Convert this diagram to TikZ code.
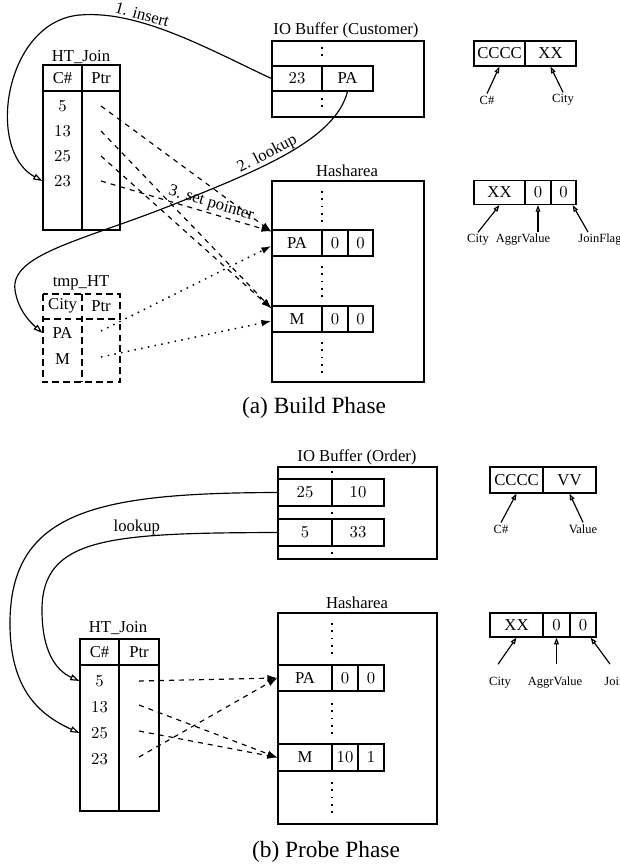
\documentclass[tikz,border=0pt]{standalone}
\usepackage{fontspec}
\setmainfont{Liberation Serif}
\usetikzlibrary{arrows.meta,calc}

\begin{document}
\begin{tikzpicture}[x=0.6pt, y=-0.6pt, line width=0.7pt,
  font=\fontsize{10}{12}\selectfont,
  cell/.style={draw, inner sep=0pt, minimum height=15pt},
  entry/.style={inner sep=0pt, minimum width=23.4pt, minimum height=15pt},
  small/.style={font=\fontsize{7.5}{9}\selectfont, inner sep=1pt},
  caption/.style={font=\fontsize{14}{17}\selectfont},
  ptr/.style={dashed, -{Latex[length=6pt,width=4pt]}},
  tmpptr/.style={line width=0.9pt, dash pattern=on 0.9pt off 3.2pt, -{Latex[length=6pt,width=4pt]}},
  flow/.style={-{Triangle[open,length=5.5pt,width=3.6pt]}},
  legend/.style={-{Triangle[open,length=4pt,width=2.8pt]}},
  vdots/.style={line width=1pt, dash pattern=on 1pt off 3.4pt},
  tmpline/.style={dash pattern=on 4pt off 2.5pt}]

  \useasboundingbox (0,0) rectangle (619,866);

  % (a) Build phase: IO buffer
  \node (iocust) at (346,30) {IO Buffer (Customer)};
  \draw (272,41) rectangle (424,117);
  \node[cell, minimum width=30pt] (c23) at (297,78.5) {$23$};
  \node[cell, minimum width=30.6pt] (cpa) at (347.5,78.5) {PA};
  \draw[vdots] (322,47) -- (322,58);
  \draw[vdots] (322,98) -- (322,109);

  % HT_Join
  \node (htj) at (81,57) {HT\_Join};
  \draw (43,65) rectangle (120,230);
  \draw (82,65) -- (82,230);
  \draw (43,91) -- (120,91);
  \node (jc) at (62.5,78) {C\#};
  \node (jp) at (101,78) {Ptr};
  \node[entry] (j5) at (62.5,106) {$5$};
  \node[entry] (j13) at (62.5,131) {$13$};
  \node[entry] (j25) at (62.5,156) {$25$};
  \node[entry] (j23) at (62.5,181) {$23$};
  \coordinate (q5) at (101,106);
  \coordinate (q13) at (101,131);
  \coordinate (q25) at (101,156);
  \coordinate (q23) at (101,181);

  % tmp_HT
  \node (tmpht) at (81,283) {tmp\_HT};
  \draw[tmpline] (43,294) rectangle (120,382);
  \draw[tmpline] (82,294) -- (82,382);
  \draw[tmpline] (43,319) -- (120,319);
  \node (tc) at (62.5,306) {City};
  \node (tp) at (101,306) {Ptr};
  \node[entry] (tpa) at (62.5,333) {PA};
  \node[entry] (tm) at (62.5,359) {M};
  \coordinate (qpa) at (101,331);
  \coordinate (qm) at (101,357);

  % Hasharea
  \node (hash) at (347,171) {Hasharea};
  \draw (272,181) rectangle (424,382);
  \node[cell, minimum width=30pt, minimum height=15.6pt] (hpa) at (297,243) {PA};
  \node[cell, minimum width=15.6pt, minimum height=15.6pt] (hpa1) at (335,243) {$0$};
  \node[cell, minimum width=15pt, minimum height=15.6pt] (hpa2) at (360.5,243) {$0$};
  \node[cell, minimum width=30pt, minimum height=15.6pt] (hm) at (297,319) {M};
  \node[cell, minimum width=15.6pt, minimum height=15.6pt] (hm1) at (335,319) {$0$};
  \node[cell, minimum width=15pt, minimum height=15.6pt] (hm2) at (360.5,319) {$0$};
  \draw[vdots] (322,191) -- (322,222);
  \draw[vdots] (322,266) -- (322,297);
  \draw[vdots] (322,342) -- (322,373);

  % set pointers
  \draw[ptr] (q5) -- ($(hpa.north west)+(0,2)$);
  \draw[ptr] (q13) -- ($(hm.north west)+(0,3)$);
  \draw[ptr] (q25) -- ($(hm.north west)+(0,3)$);
  \draw[ptr] (q23) -- node[sloped, above, inner sep=1pt, pos=0.63] (lset) {3. set pointer} ($(hpa.north west)+(0,2)$);
  \draw[tmpptr] (qpa) -- ($(hpa.west)+(0,3)$);
  \draw[tmpptr] (qm) -- ($(hm.west)+(0,2)$);

  % insert and lookup
  \draw[flow] (c23.west) .. controls (210,50) and (140,10) .. (80,15)
    node[pos=0.68, sloped, above, inner sep=1pt] (lins) {1. insert}
    .. controls (5,21) and (-15,150) .. (j23.west);
  \draw[flow] (cpa.south) .. controls (335,140) and (260,170) .. (167,207)
    node[pos=0.58, sloped, above, inner sep=0.5pt] (llook) {2. lookup}
    .. controls (80,241) and (10,255) .. (15,290)
    .. controls (18,310) and (30,322) .. (tpa.west);

  % record layouts
  \node[cell, minimum width=30.6pt] (lcc) at (499.5,53.5) {CCCC};
  \node[cell, minimum width=30.6pt] (lxx) at (550.5,53.5) {XX};
  \node[small] (lc) at (487,100) {C\#};
  \node[small] (lcity) at (563,100) {City};
  \draw[legend] (lc.north) -- (lcc.south);
  \draw[legend] (lcity.north) -- (lxx.south);

  \node[cell, minimum width=30.6pt, minimum height=14.4pt] (lxx2) at (499.5,192.5) {XX};
  \node[cell, minimum width=15.6pt, minimum height=14.4pt] (l0a) at (538,192.5) {$0$};
  \node[cell, minimum width=15pt, minimum height=14.4pt] (l0b) at (563.5,192.5) {$0$};
  \node[small] (lcity2) at (478,240) {City};
  \node[small] (laggr) at (523,240) {AggrValue};
  \node[small] (ljoin) at (600,240) {JoinFlag};
  \draw[legend] (lcity2.north) -- (lxx2.south);
  \draw[legend] (l0a.south |- laggr.north) -- (l0a.south);
  \draw[legend] ($(ljoin.north)+(-12,0)$) -- ($(l0b.south east)+(-4,0)$);

  \node[caption] (capa) at (314,408) {(a) Build Phase};

  % (b) Probe phase: IO buffer
  \node (ioord) at (357,457) {IO Buffer (Order)};
  \draw (278,467) rectangle (437,559);
  \node[cell, minimum width=32.4pt, minimum height=16.2pt] (o25) at (305,492.5) {$25$};
  \node[cell, minimum width=31.2pt, minimum height=16.2pt] (o10) at (358,492.5) {$10$};
  \node[cell, minimum width=32.4pt, minimum height=16.2pt] (o5) at (305,532.5) {$5$};
  \node[cell, minimum width=31.2pt, minimum height=16.2pt] (o33) at (358,532.5) {$33$};
  \draw[vdots] (332,471) -- (332,474);
  \draw[vdots] (332,512) -- (332,515);
  \draw[vdots] (332,552) -- (332,555);

  % Hasharea
  \node (hashb) at (357,603) {Hasharea};
  \draw (278,613) rectangle (437,824);
  \node[cell, minimum width=32.4pt, minimum height=15.6pt] (bpa) at (305,678) {PA};
  \node[cell, minimum width=15.6pt, minimum height=15.6pt] (bpa1) at (345,678) {$0$};
  \node[cell, minimum width=15.6pt, minimum height=15.6pt] (bpa2) at (371,678) {$0$};
  \node[cell, minimum width=32.4pt, minimum height=16.2pt] (bm) at (305,757.5) {M};
  \node[cell, minimum width=15.6pt, minimum height=16.2pt] (bm1) at (345,757.5) {$10$};
  \node[cell, minimum width=15.6pt, minimum height=16.2pt] (bm2) at (371,757.5) {$1$};
  \draw[vdots] (332,623) -- (332,654);
  \draw[vdots] (332,703) -- (332,734);
  \draw[vdots] (332,782) -- (332,813);

  % HT_Join
  \node (htjb) at (118,628) {HT\_Join};
  \draw (80,639) rectangle (159,811);
  \draw (119,639) -- (119,811);
  \draw (80,665) -- (159,665);
  \node (kc) at (99.5,652) {C\#};
  \node (kp) at (139,652) {Ptr};
  \node[entry] (k5) at (99.5,681) {$5$};
  \node[entry] (k13) at (99.5,707) {$13$};
  \node[entry] (k25) at (99.5,733) {$25$};
  \node[entry] (k23) at (99.5,759) {$23$};
  \coordinate (r5) at (139,681);
  \coordinate (r13) at (139,705);
  \coordinate (r25) at (139,731);
  \coordinate (r23) at (139,757);

  % probe pointers
  \draw[ptr] (r5) -- (bpa.west);
  \draw[ptr] (r13) -- (bm.west);
  \draw[ptr] (r25) -- (bm.west);
  \draw[ptr] (r23) -- (bpa.west);

  % lookups
  \draw[flow] (o25.west) .. controls (100,493) and (12,510) .. (10,620)
    .. controls (9,690) and (40,715) .. (k25.west);
  \draw[flow] (o5.west) .. controls (110,533) and (42,537) .. (42,610)
    node[pos=0.35, above, inner sep=1pt] (llook2) {lookup}
    .. controls (42,650) and (55,670) .. (k5.west);

  % record layouts
  \node[cell, minimum width=31.8pt, minimum height=15.6pt] (rcc) at (516.5,480) {CCCC};
  \node[cell, minimum width=31.8pt, minimum height=15.6pt] (rvv) at (569.5,480) {VV};
  \node[small] (rc) at (501,529) {C\#};
  \node[small] (rval) at (583,529) {Value};
  \draw[legend] (rc.north) -- (rcc.south);
  \draw[legend] (rval.north) -- (rvv.south);

  \node[cell, minimum width=31.8pt, minimum height=14.4pt] (rxx) at (516.5,625) {XX};
  \node[cell, minimum width=16.2pt, minimum height=14.4pt] (r0a) at (556.5,625) {$0$};
  \node[cell, minimum width=15.6pt, minimum height=14.4pt] (r0b) at (583,625) {$0$};
  \node[small] (rcity) at (500,683) {City};
  \node[small] (raggr) at (555,683) {AggrValue};
  \node[small] (rjoin) at (626,683) {JoinFlag};
  \draw[legend] ($(rcity.north)+(-2,-11)$) -- (rxx.south);
  \draw[legend] ($(r0a.south |- raggr.north)+(0,-11)$) -- (r0a.south);
  \draw[legend] ($(rjoin.north)+(-16,-11)$) -- ($(r0b.south east)+(-6,0)$);

  \node[caption] (capb) at (326,852) {(b) Probe Phase};
\end{tikzpicture}
\end{document}
